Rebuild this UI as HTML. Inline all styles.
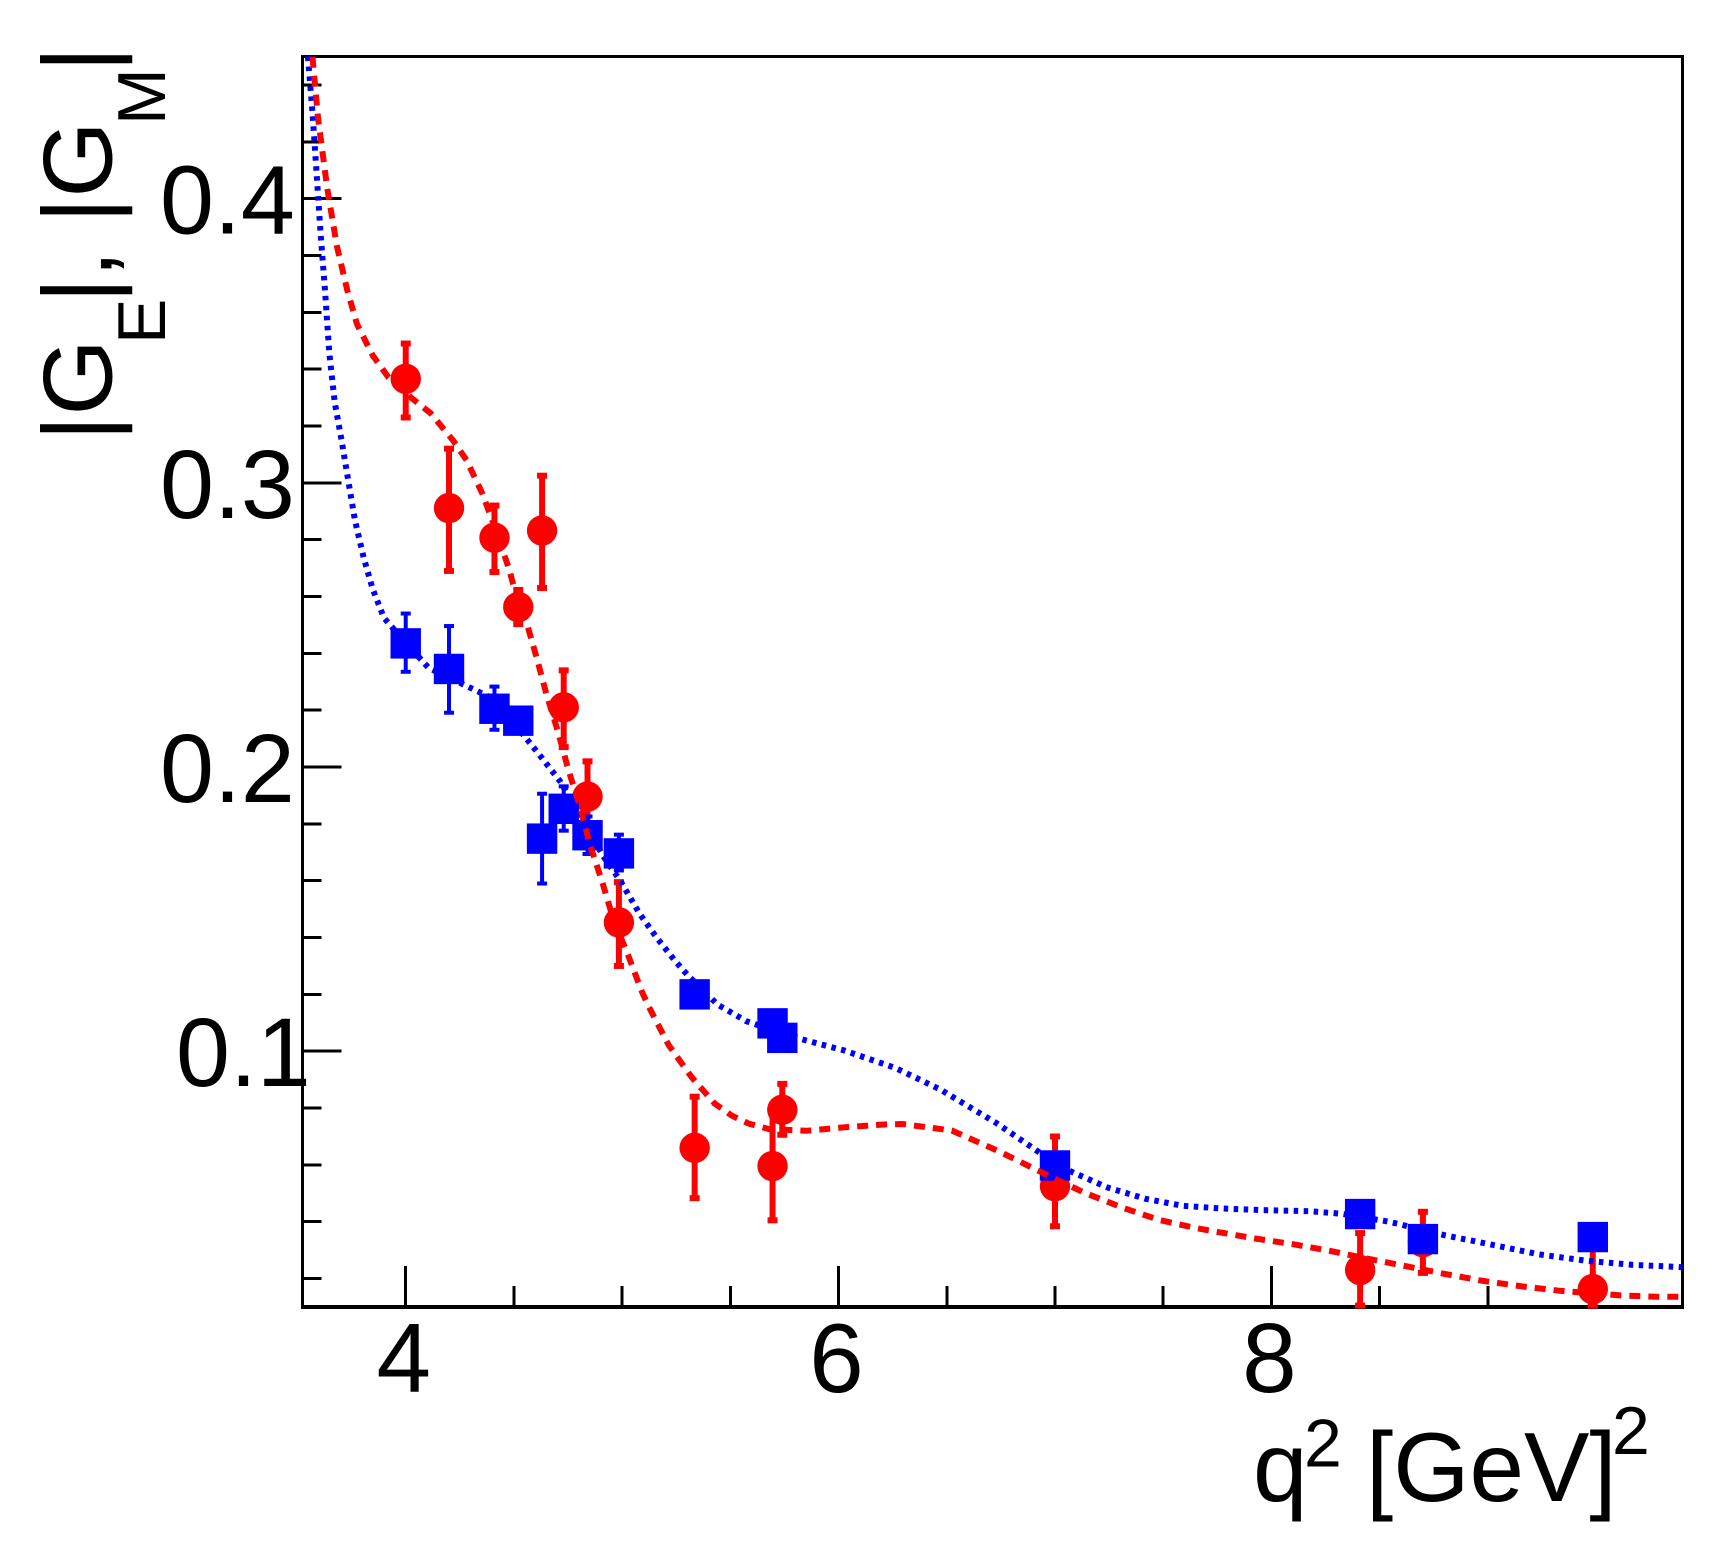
<!DOCTYPE html>
<html>
<head>
<meta charset="utf-8">
<title>|GE|, |GM| vs q2</title>
<style>
html,body{margin:0;padding:0;background:#fff;}
svg{display:block;}
text{font-family:"Liberation Sans",Arial,sans-serif;fill:#000;}
</style>
</head>
<body>
<svg id="chart" xmlns="http://www.w3.org/2000/svg" width="1735" height="1555" viewBox="0 0 1735 1555">
  <defs>
    <clipPath id="plot-clip"><rect x="302.5" y="56" width="1380" height="1251"/></clipPath>
  </defs>
  <rect x="0" y="0" width="1735" height="1555" fill="#fff"/>
  <g id="axes"></g>
  <g fill="#000">
    <rect x="301" y="55" width="1383" height="3"/>
    <rect x="301" y="55" width="3" height="1254"/>
    <rect x="1681" y="55" width="3" height="1254"/>
    <rect x="301" y="1305" width="1383" height="4"/>
  </g>
  <g id="marks"></g>

  <g>
    <text x="1253" y="1501" font-size="98">q</text>
    <text x="1304" y="1466.5" font-size="68">2</text>
    <text x="1366" y="1501" font-size="98">[GeV]</text>
    <text x="1612" y="1454" font-size="68">2</text>
  </g>
  <g transform="rotate(-90)">
    <text x="-441" y="111.6" font-size="98">|G</text>
    <text x="-344" y="165" font-size="68">E</text>
    <text x="-303" y="111.6" font-size="98">|, |G</text>
    <text x="-125" y="165" font-size="68">M</text>
    <text x="-72" y="111.6" font-size="98">|</text>
  </g>
</svg>
<script>
// Axis ranges
const xRange = [3.523, 9.9];
const yRange = [0.01, 0.45];

// Tick values and labels
const xMajorTicks = [4, 6, 8];
const xMinorTicks = [4.5, 5, 5.5, 6.5, 7, 7.5, 8.5, 9, 9.5];
const xTickLabels = ['4', '6', '8'];
const yMajorTicks = [0.1, 0.2, 0.3, 0.4];
const yMinorTicks = [0.02, 0.04, 0.06, 0.08, 0.12, 0.14, 0.16, 0.18, 0.22, 0.24, 0.26, 0.28, 0.32, 0.34, 0.36, 0.38, 0.42, 0.44];
const yTickLabels = ['0.1', '0.2', '0.3', '0.4'];

// |G_E| points (red circles)
const redQ    = [4.0, 4.2, 4.41, 4.52, 4.63, 4.73, 4.84, 4.985, 5.335, 5.695, 5.74, 7.0, 8.41, 8.70, 9.485];
const redVal  = [0.3366, 0.2911, 0.2807, 0.2563, 0.2832, 0.221, 0.1896, 0.1453, 0.0660, 0.0596, 0.0794, 0.0525, 0.0230, 0.0328, 0.0163];
const redHigh = [0.3490, 0.312, 0.2920, 0.2623, 0.3025, 0.2340, 0.2020, 0.1595, 0.0840, 0.0795, 0.0885, 0.0700, 0.036, 0.0435, 0.035];
const redLow  = [0.323, 0.269, 0.2686, 0.2503, 0.263, 0.207, 0.176, 0.13, 0.0483, 0.0405, 0.0706, 0.0384, 0.0105, 0.022, 0.0105];

// |G_M| points (blue squares)
const blueQ    = [4.0, 4.2, 4.41, 4.52, 4.63, 4.73, 4.84, 4.985, 5.335, 5.695, 5.74, 7.0, 8.41, 8.70, 9.485];
const blueVal  = [0.2435, 0.2345, 0.2205, 0.2163, 0.1748, 0.1853, 0.1760, 0.1696, 0.1200, 0.1098, 0.1047, 0.0598, 0.0427, 0.0339, 0.0346];
const blueHigh = [0.2540, 0.2496, 0.2283, 0.2196, 0.1906, 0.1932, 0.1826, 0.1762, 0.1226, 0.1121, 0.1071, 0.0620, 0.0449, 0.0361, 0.0366];
const blueLow  = [0.2335, 0.2191, 0.2131, 0.2134, 0.159, 0.1776, 0.1694, 0.1636, 0.1178, 0.1079, 0.1027, 0.0581, 0.0411, 0.0321, 0.033];

// Red dashed curve
const redCurveQ = [3.569, 3.594, 3.637, 3.682, 3.730, 3.775, 3.847, 3.920, 4.023, 4.115, 4.218, 4.281, 4.353, 4.415, 4.477, 4.528, 4.559, 4.605, 4.651, 4.705, 4.751, 4.805, 4.851, 4.908, 4.959, 5.028, 5.090, 5.122, 5.215, 5.321, 5.427, 5.507, 5.586, 5.679, 5.852, 6.037, 6.210, 6.293, 6.523, 6.746, 6.897, 7.0, 7.136, 7.310, 7.482, 7.656, 7.915, 8.100, 8.273, 8.446, 8.631, 8.802, 8.978, 9.161, 9.334, 9.606, 9.779, 9.9];
const redCurveV = [0.4499, 0.4288, 0.4037, 0.3833, 0.3677, 0.3558, 0.3449, 0.3371, 0.3301, 0.3245, 0.3150, 0.3080, 0.2964, 0.2837, 0.2697, 0.2556, 0.2507, 0.2384, 0.2254, 0.2121, 0.1991, 0.1862, 0.1727, 0.1596, 0.1464, 0.1337, 0.1212, 0.1158, 0.1021, 0.0909, 0.0816, 0.0773, 0.0745, 0.0726, 0.0720, 0.0733, 0.0742, 0.0744, 0.0721, 0.0646, 0.0589, 0.0551, 0.0502, 0.0450, 0.0406, 0.0377, 0.0342, 0.0321, 0.0297, 0.0270, 0.0242, 0.0216, 0.0192, 0.0172, 0.0157, 0.0141, 0.0136, 0.0136];

// Blue dotted curve
const blueCurveQ = [3.548, 3.569, 3.590, 3.606, 3.627, 3.647, 3.672, 3.703, 3.734, 3.765, 3.806, 3.847, 3.899, 3.971, 4.105, 4.270, 4.394, 4.543, 4.628, 4.713, 4.805, 4.913, 4.993, 5.082, 5.159, 5.244, 5.306, 5.441, 5.573, 5.678, 5.839, 6.025, 6.263, 6.471, 6.727, 7.003, 7.082, 7.244, 7.417, 7.590, 7.764, 7.959, 8.176, 8.327, 8.543, 8.804, 9.021, 9.237, 9.454, 9.671, 9.877, 9.9];
const blueCurveV = [0.45, 0.4303, 0.4068, 0.3881, 0.3677, 0.3457, 0.3284, 0.3151, 0.3009, 0.2869, 0.2736, 0.2627, 0.2525, 0.2462, 0.2349, 0.2289, 0.2244, 0.2114, 0.2033, 0.195, 0.1833, 0.1686, 0.1598, 0.1482, 0.1400, 0.1318, 0.1265, 0.1164, 0.1106, 0.1078, 0.1040, 0.1003, 0.0941, 0.0865, 0.0748, 0.0605, 0.0574, 0.0520, 0.0481, 0.0456, 0.0447, 0.0441, 0.0437, 0.0428, 0.0400, 0.0352, 0.0319, 0.0285, 0.0263, 0.0248, 0.0241, 0.024];

// Axis functions
const plotLeft = 302.5, plotRight = 1682.6, plotTop = 56.5, plotBottom = 1307;
function sx(q) { return plotLeft + (q - xRange[0]) / (xRange[1] - xRange[0]) * (plotRight - plotLeft); }
function sy(v) { return plotBottom - (v - yRange[0]) / (yRange[1] - yRange[0]) * (plotBottom - plotTop); }
function clampV(v) { return Math.max(yRange[0], Math.min(yRange[1], v)); }

const NS = 'http://www.w3.org/2000/svg';
const axes = document.getElementById('axes');
const marks = document.getElementById('marks');

function make(tag, props, parent) {
  const el = document.createElementNS(NS, tag);
  for (const k in props) el.setAttribute(k, props[k]);
  parent.appendChild(el);
  return el;
}

// X ticks
xMajorTicks.forEach(function (q, i) {
  const t = make('line', {x1: sx(q), x2: sx(q), y1: plotBottom, y2: plotBottom - 41, stroke: '#000', 'stroke-width': 3, 'shape-rendering': 'crispEdges'}, axes);
  
  
  const l = make('text', {x: sx(q) - 2, y: 1392, 'font-size': 98, 'text-anchor': 'middle'}, axes);
  l.textContent = xTickLabels[i];
  
  
});
xMinorTicks.forEach(function (q) {
  const t = make('line', {x1: sx(q), x2: sx(q), y1: plotBottom, y2: plotBottom - 21, stroke: '#000', 'stroke-width': 3, 'shape-rendering': 'crispEdges'}, axes);
  
  
});

// Y ticks
yMajorTicks.forEach(function (v, i) {
  const t = make('line', {x1: plotLeft, x2: plotLeft + 39, y1: sy(v), y2: sy(v), stroke: '#000', 'stroke-width': 3, 'shape-rendering': 'crispEdges'}, axes);
  
  
  const startX = yTickLabels[i] === '0.1' ? 176 : 160;
  const l = make('text', {x: startX, y: sy(v) + 35, 'font-size': 97}, axes);
  l.textContent = yTickLabels[i];
  
  
});
yMinorTicks.forEach(function (v) {
  const t = make('line', {x1: plotLeft, x2: plotLeft + 19, y1: sy(v), y2: sy(v), stroke: '#000', 'stroke-width': 3, 'shape-rendering': 'crispEdges'}, axes);
  
  
});

function errorBar(q, lo, hi, color, width, capH) {
  const g = make('g', {}, marks);
  
  
  const x = sx(q), yHi = sy(clampV(hi)), yLo = sy(clampV(lo));
  make('line', {x1: x, x2: x, y1: yHi, y2: yLo, stroke: color, 'stroke-width': width}, g);
  make('rect', {x: x - 5, y: yHi - capH / 2, width: 10, height: capH, fill: color}, g);
  make('rect', {x: x - 5, y: yLo - capH / 2, width: 10, height: capH, fill: color}, g);
}

// Red points first: blue points sit on top of them
redQ.forEach(function (q, i) {
  errorBar(q, redLow[i], redHigh[i], '#ff0000', 6, 6);
  const c = make('circle', {cx: sx(q), cy: sy(redVal[i]), r: 15.2, fill: '#ff0000'}, marks);
  
  
});
blueQ.forEach(function (q, i) {
  errorBar(q, blueLow[i], blueHigh[i], '#0000ff', 4, 4);
  const s = make('rect', {x: sx(q) - 15.2, y: sy(blueVal[i]) - 15.2, width: 30.4, height: 30.4, fill: '#0000ff'}, marks);
  
  
});

function curvePath(qs, vs) {
  return qs.map(function (q, i) {
    return (i ? 'L' : 'M') + sx(q).toFixed(1) + ' ' + sy(vs[i]).toFixed(1);
  }).join(' ');
}

const blueCurve = make('path', {d: curvePath(blueCurveQ, blueCurveV), fill: 'none', stroke: '#0000ff', 'stroke-width': 6, 'stroke-dasharray': '4.5 5.5', 'clip-path': 'url(#plot-clip)'}, marks);



const redCurve = make('path', {d: curvePath(redCurveQ, redCurveV), fill: 'none', stroke: '#ff0000', 'stroke-width': 6, 'stroke-dasharray': '11 8', 'clip-path': 'url(#plot-clip)'}, marks);


</script>
</body>
</html>
